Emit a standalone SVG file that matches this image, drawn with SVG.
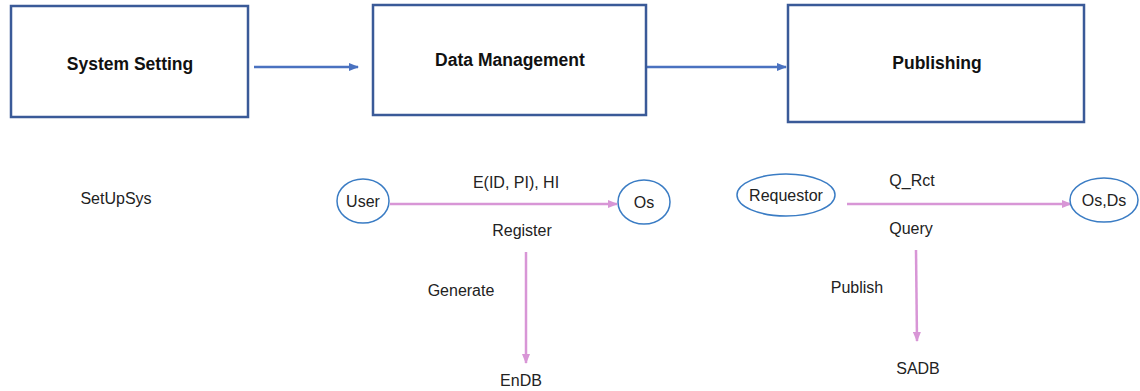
<svg xmlns="http://www.w3.org/2000/svg" width="1140" height="391" viewBox="0 0 1140 391">
<style>
.box{fill:#fff;stroke:#3A5A98;stroke-width:2.5}
.ell{fill:#fff;stroke:#3A7CC4;stroke-width:1.5}
.title{font-family:"Liberation Sans",Arial,sans-serif;font-weight:bold;font-size:17.5px;fill:#111;text-anchor:middle}
.lbl{font-family:"Liberation Sans",Arial,sans-serif;font-size:16px;fill:#222;text-anchor:middle}
.blue{stroke:#4A72C0;stroke-width:2.5;fill:none}
.pink{stroke:#D896D6;stroke-width:2.5;fill:none}
</style>
<defs>
<marker id="ab" markerWidth="10" markerHeight="8" refX="9" refY="4" orient="auto" markerUnits="userSpaceOnUse"><path d="M0,0 L10,4 L0,8 Z" fill="#4A72C0"/></marker>
<marker id="ap" markerWidth="10" markerHeight="8" refX="9" refY="4" orient="auto" markerUnits="userSpaceOnUse"><path d="M0,0 L10,4 L0,8 Z" fill="#D896D6"/></marker>
</defs>
<rect width="1140" height="391" fill="#fff"/>
<g id="connectors">
<line class="blue" x1="254" y1="67" x2="358" y2="67" marker-end="url(#ab)"/>
<line class="blue" x1="647" y1="67" x2="786" y2="67" marker-end="url(#ab)"/>
<line class="pink" x1="390" y1="204" x2="617" y2="204" marker-end="url(#ap)"/>
<line class="pink" x1="847" y1="204" x2="1071" y2="204" marker-end="url(#ap)"/>
<line class="pink" x1="526" y1="252" x2="526" y2="363" marker-end="url(#ap)"/>
<line class="pink" x1="916" y1="250" x2="917" y2="341" marker-end="url(#ap)"/>
<text class="lbl" x="516" y="188">E(ID, PI), HI</text>
<text class="lbl" x="522" y="236">Register</text>
<text class="lbl" x="461" y="296">Generate</text>
<text class="lbl" x="912" y="186">Q_Rct</text>
<text class="lbl" x="911" y="234">Query</text>
<text class="lbl" x="857" y="293">Publish</text>
</g>
<g id="system-setting"><rect class="box" x="11" y="6" width="237" height="111"/><text class="title" x="130" y="70">System Setting</text></g>
<g id="data-management"><rect class="box" x="373" y="5" width="273" height="110"/><text class="title" x="510" y="66">Data Management</text></g>
<g id="publishing"><rect class="box" x="788" y="5" width="296" height="117"/><text class="title" x="937" y="69">Publishing</text></g>
<g id="setupsys"><text class="lbl" x="116" y="204">SetUpSys</text></g>
<g id="user"><ellipse class="ell" cx="363" cy="201" rx="26" ry="22"/><text class="lbl" x="363" y="207">User</text></g>
<g id="os"><ellipse class="ell" cx="644" cy="202" rx="26" ry="22"/><text class="lbl" x="644" y="208">Os</text></g>
<g id="requestor"><ellipse class="ell" cx="786" cy="195" rx="49" ry="21"/><text class="lbl" x="786" y="201">Requestor</text></g>
<g id="osds"><ellipse class="ell" cx="1104" cy="200" rx="34" ry="22"/><text class="lbl" x="1104" y="206">Os,Ds</text></g>
<g id="endb"><text class="lbl" x="521" y="386">EnDB</text></g>
<g id="sadb"><text class="lbl" x="918" y="374">SADB</text></g>
</svg>
